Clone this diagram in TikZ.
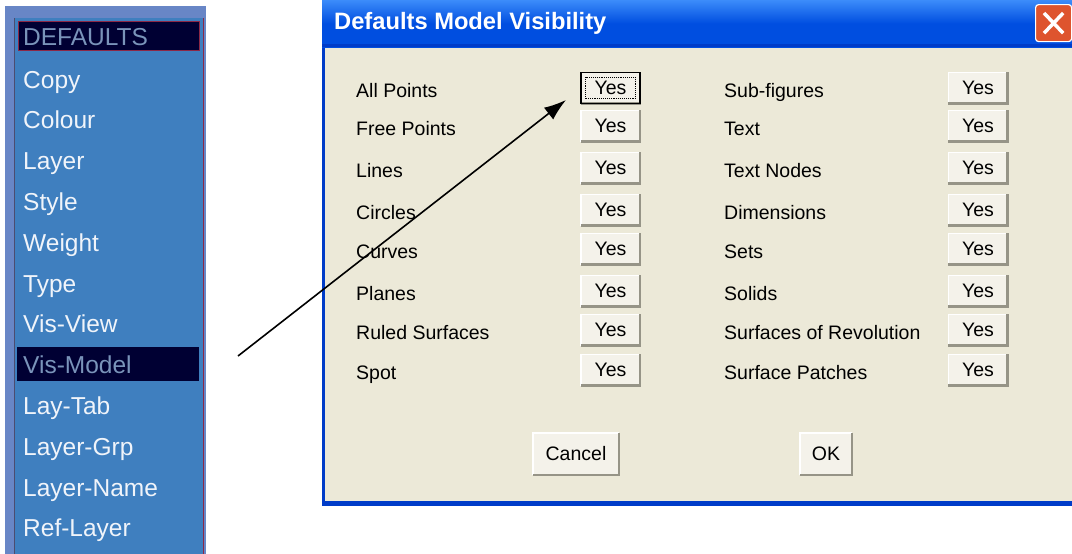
\documentclass[tikz,border=0pt]{standalone}
\usepackage{fontspec}
\setmainfont{Liberation Sans}
\usetikzlibrary{arrows.meta}
\definecolor{panel}{RGB}{63,127,191}
\definecolor{panelborder}{RGB}{104,134,198}
\definecolor{navy}{RGB}{0,0,51}
\definecolor{hdrred}{RGB}{140,40,70}
\definecolor{dimtext}{RGB}{122,148,186}
\definecolor{menutext}{RGB}{240,244,250}
\definecolor{xpblue}{RGB}{0,78,224}
\definecolor{xplight}{RGB}{60,140,250}
\definecolor{xpdark}{RGB}{0,60,200}
\definecolor{body}{RGB}{236,233,216}
\definecolor{btnface}{RGB}{244,242,234}
\definecolor{btnshadow}{RGB}{150,148,135}
\definecolor{closered}{RGB}{222,84,46}
\newcommand\mnfont{\fontsize{24.5}{29}\selectfont}
\newcommand\dlgfont{\fontsize{19.5}{23}\selectfont}
\newcommand\ttlfont{\fontsize{23.7}{28}\selectfont\bfseries}
\tikzset{
  menuitem/.style={anchor=base west, inner sep=0, font=\mnfont, text=menutext},
  dlglabel/.style={anchor=base west, inner sep=0, font=\dlgfont, text=black},
  btn/.style={minimum width=59pt, minimum height=31pt, inner sep=0, fill=btnface, font=\dlgfont, text=black},
  bigbtn/.style={minimum height=42pt, inner sep=0, fill=btnface, font=\dlgfont, text=black},
  shadowline/.style={draw=btnshadow, line width=2.5pt},
  hiline/.style={draw=white, line width=1.5pt},
  pointer/.style={draw=black, line width=1.6pt, -{Latex[length=22pt,width=15pt]}}
}
\begin{document}
\begin{tikzpicture}[x=1pt,y=-1pt]
\useasboundingbox[fill=white] (0,0) rectangle (1072,554);
% ---------- left menu panel ----------
\fill[panelborder] (5,6) rectangle (206,554);
\fill[panel] (14,18) rectangle (203,554);
\draw[navy!70, line width=1pt] (14.5,18) -- (14.5,554);
\draw[hdrred, line width=1.2pt] (203.5,18) -- (203.5,554);
\node[anchor=north west, draw=hdrred, line width=1pt, fill=navy, minimum width=181pt, minimum height=29pt, inner sep=0] (hdr) at (18,21) {};
\node[menuitem, text=dimtext] (hdrtext) at (23,45.5) {DEFAULTS};
\node[anchor=north west, fill=navy, minimum width=182pt, minimum height=34pt, inner sep=0] (sel) at (17,347) {};
\foreach \t [count=\i from 0] in {Copy,Colour,Layer,Style,Weight,Type,Vis-View,Vis-Model,Lay-Tab,Layer-Grp,Layer-Name,Ref-Layer}{
  \pgfmathsetmacro\bl{88+40.8*\i}
  \ifnum\i=7
    \node[menuitem, text=dimtext] (m\i) at (23,\bl) {\t};
  \else
    \node[menuitem] (m\i) at (23,\bl) {\t};
  \fi
}
% ---------- dialog ----------
\fill[xpdark] (322,0) rectangle (1072,506);
\fill[body] (325,47) rectangle (1072,501);
\shade[top color=xplight, bottom color=xpblue, middle color=xpblue] (322,0) rectangle (1072,47);
\fill[xpdark] (322,44) rectangle (1072,47);
\node[anchor=base west, inner sep=0, font=\ttlfont, text=white] (title) at (334,30) {Defaults Model Visibility};
\node[anchor=north west, draw=white, line width=1.2pt, fill=closered, rounded corners=3pt, minimum width=36pt, minimum height=37pt, inner sep=0] (close) at (1035,4) {};
\draw[white, line width=3.5pt] ([shift={(9,9)}]close.north west) -- ([shift={(-9,-9)}]close.south east);
\draw[white, line width=3.5pt] ([shift={(-9,9)}]close.north east) -- ([shift={(9,-9)}]close.south west);
% labels and buttons
\foreach \l/\r/\bl/\by [count=\i] in {
  All Points/Sub-figures/97/88,
  Free Points/Text/135/126,
  Lines/Text Nodes/177/168,
  Circles/Dimensions/219/210,
  Curves/Sets/258/249,
  Planes/Solids/300/291,
  Ruled Surfaces/Surfaces of Revolution/339/330,
  Spot/Surface Patches/379/370}{
  \node[dlglabel] (ll\i) at (356,\bl) {\l};
  \node[dlglabel] (rl\i) at (724,\bl) {\r};
  \node[btn] (lb\i) at (610.5,\by) {Yes};
  \node[btn] (rb\i) at (978,\by) {Yes};
  \foreach \b in {lb\i,rb\i}{
    \draw[hiline] (\b.south west) -- (\b.north west) -- (\b.north east);
    \draw[shadowline] (\b.south west) -- (\b.south east) -- (\b.north east);
  }
}
% focused button
\draw[black, line width=1.5pt] (lb1.south west) rectangle (lb1.north east);
\draw[black, densely dotted, line width=0.9pt] ([shift={(5,-5)}]lb1.south west) rectangle ([shift={(-5,5)}]lb1.north east);
% Cancel / OK
\node[bigbtn, minimum width=86pt] (cancel) at (576,454) {Cancel};
\node[bigbtn, minimum width=52pt] (ok) at (826,454) {OK};
\foreach \b in {cancel,ok}{
  \draw[hiline] (\b.south west) -- (\b.north west) -- (\b.north east);
  \draw[shadowline] (\b.south west) -- (\b.south east) -- (\b.north east);
}
% ---------- pointer arrow ----------
\coordinate (arrstart) at (238,356);
\coordinate (arrend) at (566,100);
\draw[pointer] (arrstart) -- (arrend);
\end{tikzpicture}
\end{document}
